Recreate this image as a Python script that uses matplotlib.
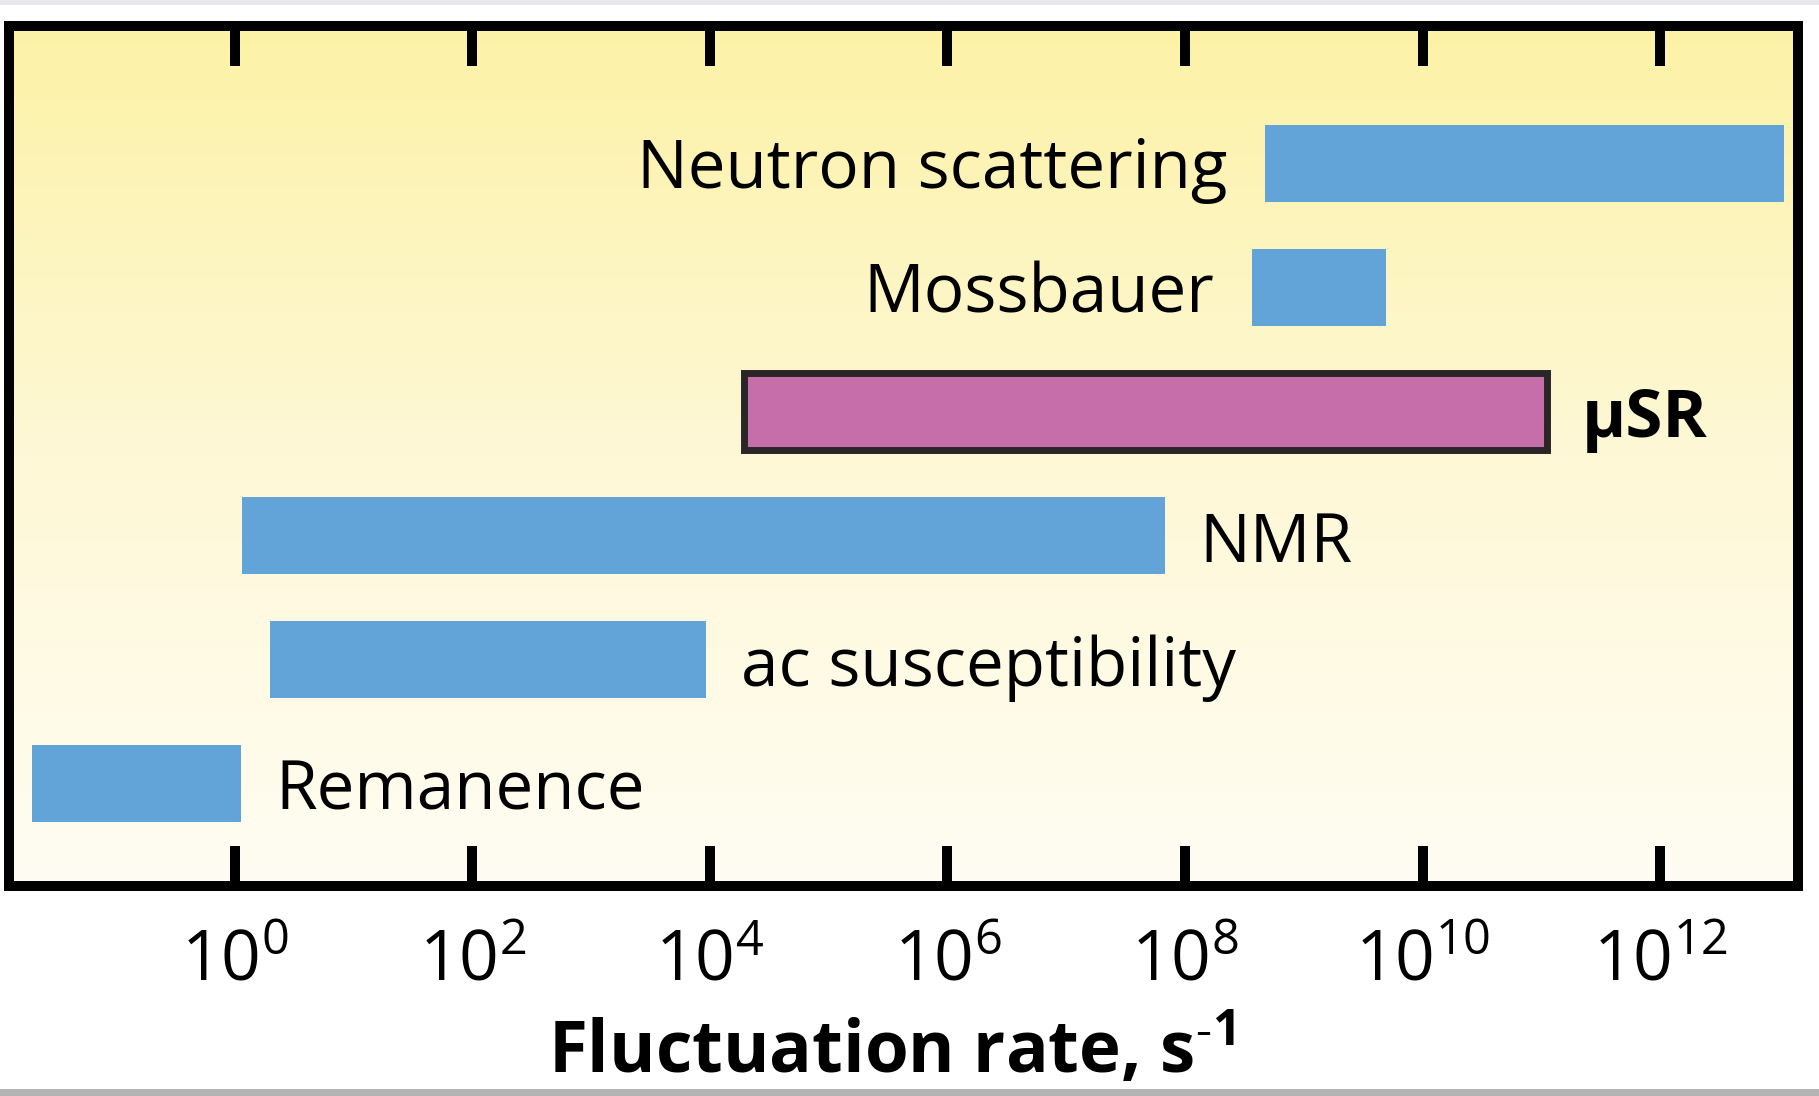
import numpy as np
import matplotlib
matplotlib.use("Agg")
import matplotlib.pyplot as plt
from matplotlib.ticker import FixedLocator, FuncFormatter, NullLocator
from matplotlib.patches import Rectangle
from matplotlib.colors import LinearSegmentedColormap

plt.rcParams['font.family'] = ['Open Sans', 'DejaVu Sans']
plt.rcParams['mathtext.default'] = 'regular'

# Techniques and the fluctuation-rate windows they probe (log10 of rate in s^-1)
methods = ['Remanence', 'ac susceptibility', 'NMR', 'μSR', 'Mossbauer', 'Neutron scattering']
log_rate_lo = [-1.71, 0.30, 0.06, 4.29, 8.56, 8.67]
log_rate_hi = [0.05, 3.97, 7.83, 11.05, 9.69, 13.04]
label_side = ['right', 'right', 'right', 'right', 'left', 'left']
highlight = 'μSR'
tick_exponents = [0, 2, 4, 6, 8, 10, 12]

W, H = 1819, 1096
fig = plt.figure(figsize=(W / 100, H / 100), dpi=100)
fig.patch.set_facecolor('white')

# thin grey strips along top and bottom edges
fig.patches.append(Rectangle((0, 1 - 5 / H), 1, 5 / H, transform=fig.transFigure,
                             facecolor='#e8e8ec', edgecolor='none', zorder=0))
fig.patches.append(Rectangle((0, 0), 1, 7 / H, transform=fig.transFigure,
                             facecolor='#b4b4b4', edgecolor='none', zorder=0))

pos = [9 / W, 1 - 886 / H, (1798 - 9) / W, (886 - 26) / H]

# vertical yellow-to-cream gradient behind the plot
bg = fig.add_axes(pos, zorder=0)
cmap = LinearSegmentedColormap.from_list('bgfade', ['#fffdf3', '#fef8d6', '#fcf2a6'])
grad = np.linspace(0, 1, 256).reshape(-1, 1)
bg.imshow(grad, cmap=cmap, aspect='auto', origin='lower', extent=(0, 1, 0, 1))
bg.set_axis_off()

ax = fig.add_axes(pos, zorder=1)
ax.patch.set_alpha(0)
ax.set_xscale('log')

y = np.arange(len(methods))
lo = 10.0 ** np.array(log_rate_lo)
hi = 10.0 ** np.array(log_rate_hi)

blue = '#62a3d8'
pink = '#c66ea9'
for yi, name, a, b in zip(y, methods, lo, hi):
    if name == highlight:
        ax.barh(yi, b - a, left=a, height=0.62, color=pink, edgecolor='#2a2628',
                linewidth=5, zorder=3)
    else:
        ax.barh(yi, b - a, left=a, height=0.62, color=blue, edgecolor='none', zorder=3)

for yi, name, a, b, side in zip(y, methods, lo, hi, label_side):
    weight = 'bold' if name == highlight else 'normal'
    if side == 'right':
        ax.annotate(name, (b, yi), xytext=(25, -6), textcoords='offset points',
                    ha='left', va='center', fontsize=48.5, fontweight=weight, zorder=4)
    else:
        ax.annotate(name, (a, yi), xytext=(-27, -5), textcoords='offset points',
                    ha='right', va='center', fontsize=48.5, fontweight=weight, zorder=4)

ax.set_xlim(10 ** -1.90, 10 ** 13.16)
ax.set_ylim(-0.827, 6.109)

ax.xaxis.set_major_locator(FixedLocator([10.0 ** e for e in tick_exponents]))
ax.xaxis.set_minor_locator(NullLocator())
ax.xaxis.set_major_formatter(FuncFormatter(lambda v, p: r'$10^{%d}$' % round(np.log10(v))))
ax.tick_params(axis='x', which='major', direction='in', length=29, width=7.2,
               top=True, bottom=True, labelsize=50, pad=30, color='black')
ax.set_yticks([])

for sp in ax.spines.values():
    sp.set_linewidth(7.2)
    sp.set_color('black')

ax.set_xlabel('Fluctuation rate, s$^{\u2010 1}$', fontsize=51, fontweight='bold', labelpad=11)
ax.xaxis.label.set_x(0.493)

fig.savefig('out.png', dpi=100)
